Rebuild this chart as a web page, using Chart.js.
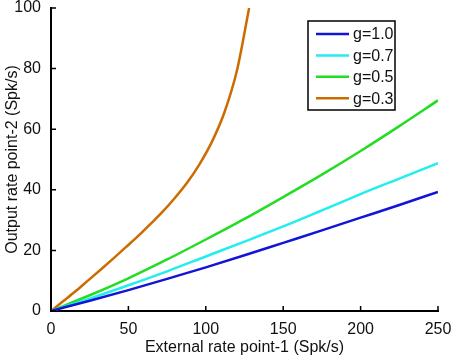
<!DOCTYPE html>
<html>
<head>
<meta charset="utf-8">
<script src="https://cdn.jsdelivr.net/npm/chart.js@4/dist/chart.umd.min.js"></script>
<style>
  html, body { margin: 0; padding: 0; background: #fff; }
  #wrap { width: 454px; height: 359px; position: relative; }
</style>
</head>
<body>
<div id="wrap"><canvas id="chart"></canvas></div>
<script>
// data
const xRate = [0, 25, 50, 75, 100, 125, 150, 175, 200, 225, 250];
const gOne = [0, 3.4, 6.9, 10.6, 14.4, 18.4, 22.5, 26.6, 30.8, 35.0, 39.3];
const gSeven = [0, 4.1, 8.5, 13.1, 18.0, 22.9, 27.9, 33.2, 38.6, 43.7, 48.8];
const gFive = [0, 5.2, 10.8, 17.0, 23.6, 30.4, 37.6, 45.0, 52.8, 61.0, 69.5];
const xOrange = [0, 8, 16, 24, 32, 40, 48, 56, 64, 72, 80, 88, 96, 104, 112, 120, 128];
const gThree = [0, 3.3, 6.6, 10.1, 13.6, 17.2, 20.9, 24.6, 28.6, 32.7, 37.3, 42.4, 48.5, 55.9, 65.5, 79.1, 100];
const labels = ['g=1.0', 'g=0.7', 'g=0.5', 'g=0.3'];
const colors = ['#1414d6', '#22eef0', '#22dd22', '#cc6c00'];
const xTicks = [0, 50, 100, 150, 200, 250];
const yTicks = [0, 20, 40, 60, 80, 100];

function pts(xs, ys) { return xs.map((x, i) => ({ x: x, y: ys[i] })); }

const FONT = 'Liberation Sans, Arial, sans-serif';

// inward tick marks like the original
const innerTicks = {
  id: 'innerTicks',
  afterDatasetsDraw(chart) {
    const { ctx, chartArea: a, scales } = chart;
    ctx.save();
    ctx.strokeStyle = '#000';
    ctx.lineWidth = 1.5;
    ctx.beginPath();
    xTicks.forEach(v => {
      const px = scales.x.getPixelForValue(v);
      ctx.moveTo(px, a.bottom); ctx.lineTo(px, a.bottom - 5);
    });
    yTicks.forEach(v => {
      const py = scales.y.getPixelForValue(v);
      ctx.moveTo(a.left, py); ctx.lineTo(a.left + 5, py);
    });
    ctx.stroke();
    ctx.restore();
  }
};

// boxed legend in the upper right of the plot
const boxLegend = {
  id: 'boxLegend',
  afterDatasetsDraw(chart) {
    const ctx = chart.ctx;
    const x0 = 308, y0 = 21, w = 87, h = 89;
    ctx.save();
    ctx.fillStyle = '#fff';
    ctx.fillRect(x0, y0, w, h);
    ctx.strokeStyle = '#000';
    ctx.lineWidth = 1.5;
    ctx.strokeRect(x0, y0, w, h);
    ctx.font = '16px ' + FONT;
    ctx.textBaseline = 'middle';
    chart.data.datasets.forEach((ds, i) => {
      const y = y0 + 13 + i * 21.4;
      ctx.strokeStyle = ds.borderColor;
      ctx.lineWidth = 2.5;
      ctx.beginPath();
      ctx.moveTo(x0 + 8, y); ctx.lineTo(x0 + 41, y);
      ctx.stroke();
      ctx.fillStyle = '#111';
      ctx.fillText(ds.label, x0 + 45, y + 1);
    });
    ctx.restore();
  }
};

const series = [pts(xRate, gOne), pts(xRate, gSeven), pts(xRate, gFive), pts(xOrange, gThree)];

new Chart(document.getElementById('chart'), {
  type: 'line',
  data: {
    datasets: series.map((d, i) => ({
      label: labels[i],
      data: d,
      borderColor: colors[i],
      backgroundColor: colors[i],
      borderWidth: 2.5,
      pointRadius: 0,
      fill: false,
      cubicInterpolationMode: 'monotone'
    }))
  },
  options: {
    responsive: true,
    maintainAspectRatio: false,
    animation: false,
    layout: { padding: { left: 0, top: 8, right: 16, bottom: 0 } },
    plugins: { legend: { display: false }, tooltip: { enabled: false } },
    scales: {
      x: {
        type: 'linear', min: 0, max: 250,
        afterBuildTicks: s => { s.ticks = xTicks.map(v => ({ value: v })); },
        afterFit: s => { s.height = 48; s.paddingLeft = 0; s.paddingRight = 0; },
        grid: { display: true, drawOnChartArea: false, drawTicks: false },
        border: { color: '#000', width: 2 },
        ticks: { color: '#111', font: { size: 16, family: FONT }, padding: 9, maxRotation: 0 },
        title: { display: true, text: 'External rate point-1 (Spk/s)', color: '#111',
                 font: { size: 16, family: FONT }, padding: { top: 0, bottom: 2 } }
      },
      y: {
        type: 'linear', min: 0, max: 100,
        afterBuildTicks: s => { s.ticks = yTicks.map(v => ({ value: v })); },
        afterFit: s => { s.width = 51; s.paddingTop = 0; s.paddingBottom = 0; },
        grid: { display: true, drawOnChartArea: false, drawTicks: false },
        border: { color: '#000', width: 2 },
        ticks: { color: '#111', font: { size: 16, family: FONT }, padding: 10 },
        title: { display: true, text: 'Output rate point-2 (Spk/s)', color: '#111',
                 font: { size: 16, family: FONT }, padding: { top: 3, bottom: 0 } }
      }
    }
  },
  plugins: [innerTicks, boxLegend]
});
</script>
</body>
</html>
